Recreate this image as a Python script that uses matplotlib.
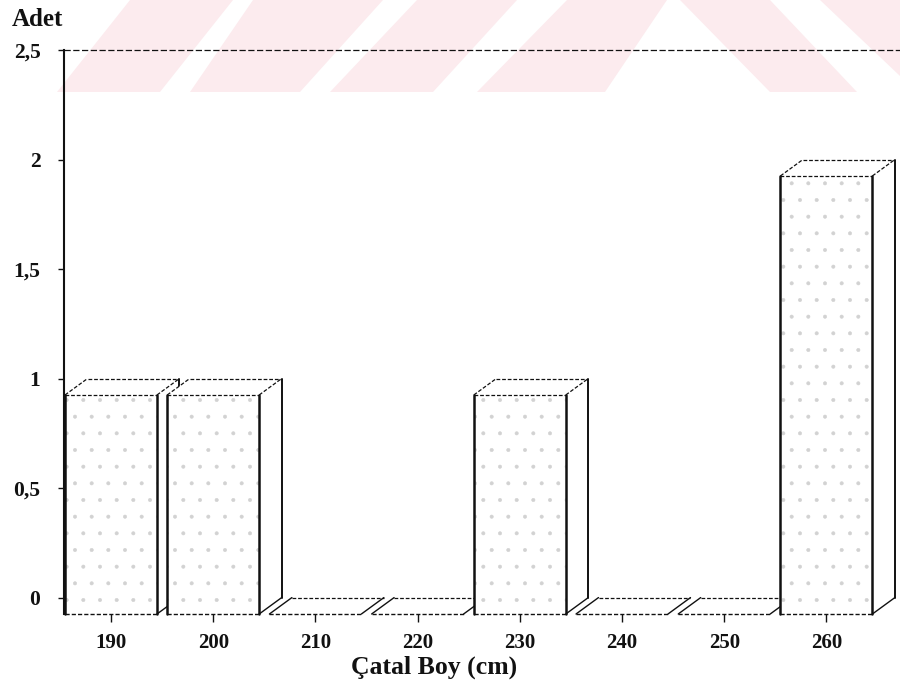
import matplotlib
matplotlib.use('Agg')
import matplotlib.pyplot as plt
from matplotlib.patches import Polygon

# Çatal boy dağılımı (adet)
categories = ['190', '200', '210', '220', '230', '240', '250', '260']
counts = [1, 1, 0, 0, 1, 0, 0, 2]
y_ticks = [0, 0.5, 1, 1.5, 2, 2.5]
y_tick_labels = ['0', '0,5', '1', '1,5', '2', '2,5']

W, H = 900, 689
plt.rcParams['font.family'] = ['Liberation Serif', 'DejaVu Serif']
plt.rcParams['hatch.linewidth'] = 0.4

fig = plt.figure(figsize=(W / 100, H / 100), dpi=100)
fig.patch.set_facecolor('white')

# soluk pembe filigran (sayfa üstü)
pink = '#fcebee'
bands = [
    [(57, 92), (160, 92), (233, 0), (130, 0)],
    [(190, 92), (300, 92), (383, 0), (253, 0)],
    [(330, 92), (433, 92), (517, 0), (417, 0)],
    [(477, 92), (605, 92), (667, 0), (567, 0)],
    [(680, 0), (770, 0), (857, 92), (770, 92)],
    [(820, 0), (900, 0), (900, 76)],
]
for b in bands:
    pts = [(x / W, 1 - y / H) for x, y in b]
    fig.add_artist(Polygon(pts, closed=True, transform=fig.transFigure,
                           facecolor=pink, edgecolor='none', zorder=0))

# eksen yerleşimi (piksel -> oran)
ax_left, ax_right, ax_top, ax_bottom = 64, 900, 50, 614
ax = fig.add_axes([ax_left / W, 1 - ax_bottom / H,
                   (ax_right - ax_left) / W, (ax_bottom - ax_top) / H])
ax.patch.set_visible(False)

d = 0.075      # derinlik (y yönünde)
dx = 0.22      # derinlik (x yönünde)
half = 0.45

ax.set_xlim(-0.46, 7.72)
ax.set_ylim(-d, 2.5)

dash = (0, (3, 1.5))


def draw_bar(ax, i, v, z):
    x0, x1 = i - half, i + half
    front = [(x0, -d), (x1, -d), (x1, v - d), (x0, v - d)]
    side = [(x1, -d), (x1 + dx, 0), (x1 + dx, v), (x1, v - d)]
    top = [(x0, v - d), (x1, v - d), (x1 + dx, v), (x0 + dx, v)]

    # yüzeyler (beyaz dolgu, sonraki çubuk öncekini örter)
    ax.add_patch(Polygon(side, closed=True, facecolor='white', edgecolor='none', zorder=z))
    ax.add_patch(Polygon(top, closed=True, facecolor='white', edgecolor='none', zorder=z))
    if v > 0:
        ax.add_patch(Polygon(front, closed=True, facecolor='white', edgecolor='none', zorder=z))
        ax.add_patch(Polygon(front, closed=True, facecolor='none', edgecolor='#d2d2d2',
                             hatch='.', linewidth=0, zorder=z + 0.1))

    kw = dict(color='#111111', zorder=z + 0.2, solid_capstyle='round', clip_on=False)
    if v > 0:
        # ön yüz kenarları
        ax.plot([x0, x0], [-d, v - d], lw=1.8, **kw)
        ax.plot([x1, x1], [-d, v - d], lw=1.8, **kw)
        ax.plot([x1 + dx, x1 + dx], [0, v], lw=1.4, **kw)
        ax.plot([x1, x1 + dx], [-d, 0], lw=1.0, **kw)
        ax.plot([x0, x1], [v - d, v - d], lw=0.9, linestyle=dash, **kw)
        ax.plot([x0, x1], [-d, -d], lw=1.0, linestyle=dash, **kw)
        ax.plot([x0, x0 + dx], [v - d, v], lw=0.9, linestyle=dash, **kw)
        ax.plot([x1, x1 + dx], [v - d, v], lw=0.9, linestyle=dash, **kw)
        ax.plot([x0 + dx, x1 + dx], [v, v], lw=0.9, linestyle=dash, **kw)
    else:
        # sıfır değerli çubuk: düz zemin
        ax.plot([x0, x1], [-d, -d], lw=1.0, linestyle=dash, **kw)
        ax.plot([x0 + dx, x1 + dx], [0, 0], lw=0.9, linestyle=dash, **kw)
        ax.plot([x0, x0 + dx], [-d, 0], lw=1.0, **kw)
        ax.plot([x1, x1 + dx], [-d, 0], lw=1.0, **kw)


for i, v in enumerate(counts):
    draw_bar(ax, i, v, 2 + i)

# üst kılavuz çizgisi
ax.axhline(2.5, color='#111111', lw=0.9, linestyle=(0, (5, 2)), clip_on=False, zorder=1)

for s in ['top', 'right', 'bottom']:
    ax.spines[s].set_visible(False)
ax.spines['left'].set_linewidth(1.5)
ax.spines['left'].set_color('#111111')

ax.set_yticks(y_ticks)
ax.set_yticklabels(y_tick_labels, fontsize=15.5, fontweight='bold')
ax.set_xticks(range(len(categories)))
ax.set_xticklabels(categories, fontsize=15, fontweight='bold')
ax.tick_params(axis='y', length=4, width=1.0, pad=13, color='#111111')
ax.tick_params(axis='x', length=6, width=1.0, pad=8, color='#111111')
for lab in ax.get_xticklabels() + ax.get_yticklabels():
    lab.set_color('#111111')

fig.text(12 / W, 1 - 20 / H, 'Adet', fontsize=18, fontweight='bold', ha='left',
         va='center', color='#111111')
fig.text(434 / W, 1 - 667 / H, 'Çatal Boy (cm)', fontsize=18.5, fontweight='bold',
         ha='center', va='center', color='#111111')

fig.savefig('out.png', dpi=100)
